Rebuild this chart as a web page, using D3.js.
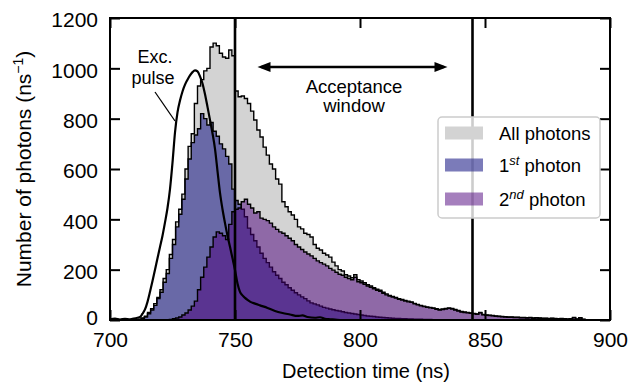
<!DOCTYPE html>
<html>
<head>
<meta charset="utf-8">
<script src="https://cdn.jsdelivr.net/npm/d3@7"></script>
<style>
  html, body { margin: 0; padding: 0; background: #fff; }
  svg text { font-family: "Liberation Sans", Arial, Helvetica, sans-serif; fill: #000; }
</style>
</head>
<body>
<svg id="chart" width="628" height="383"></svg>
<script>
// Histogram bins: start time (ns) and width (ns)
const binStart = 700;
const binWidth = 1.25;

// Counts per ns for every detected photon
const allPhotons = [
  0,0,0,0,0,0,0,0,0,
  3,8,15,30,45,65,90,120,165,200,260,
  320,390,440,500,600,690,740,860,930,955,
  990,1000,1085,1100,1090,1060,1045,1040,1073,1050,
  910,887,890,880,860,830,795,755,727,687,
  655,620,600,560,540,470,450,430,417,400,
  370,362,345,340,330,300,285,278,265,258,
  250,230,215,200,195,180,175,168,180,160,
  155,148,140,135,128,122,118,110,104,98,
  94,90,85,82,78,75,72,66,62,58,
  55,52,50,48,45,42,44,46,48,46,
  42,38,34,32,30,28,26,24,30,22,
  20,19,18,16,15,14,13,12,12,11,
  11,10,10,9,10,8,9,8,7,7,
  6,7,6,5,6,5,4,5,10,4,9,3
];

// Counts per ns for the first photon of each pulse
const firstPhoton = [
  0,0,0,0,0,0,0,0,0,
  2,6,12,25,40,58,85,110,150,185,245,
  300,370,420,480,560,640,705,735,760,820,
  800,775,785,750,730,700,680,650,620,520,
  475,460,440,410,365,340,315,290,265,245,
  228,210,192,178,165,150,140,128,118,108,
  100,92,85,76,68,64,60,55,50,47,
  44,41,38,36,33,30,28,26,24,22,
  20,18,16,15,14,12,11,10,9,8,
  7,6,6,5,5,4,4,3,3,3,
  2,2,2,1,1,1,1,1
];

// Counts per ns for the second photon of each pulse
const secondPhoton = [
  0,0,0,0,0,0,0,0,0,0,0,0,0,0,0,0,0,0,0,
  2,5,8,12,20,28,40,55,75,120,170,
  210,250,290,330,350,345,335,320,380,430,
  440,445,470,480,460,445,425,430,405,400,
  395,385,370,360,350,345,335,325,315,300,
  290,280,270,262,255,245,235,228,222,215,
  205,198,190,182,178,170,165,160,170,152,
  148,142,135,130,124,118,114,106,100,95,
  91,87,82,79,75,72,70,64,60,56,
  53,50,48,46,43,40,42,44,46,44,
  40,36,32,30,29,27,25,23,29,21,
  19,18,17,15,14,13,12,11,11,10,
  10,9,9,8,9,7,8,7,6,6,
  5,6,5,4,5,4,3,4,9,3,8,2
];

// Excitation pulse profile (time in ns, intensity)
const pulseTime = [700,702,704,706,708,710,712,713,714,715,716,717,718,719,720,721,722,723,724,725,726,727,728,729,730,731,732,733,734,735,736,737,738,739,740,741,742,743,744,745,746,747,748,749,750,751,752,753,754,755,756,758,760,763,766,769,772,775,777,779,782,784,786,788,790,792];
const pulseValue = [3,6,2,5,3,7,12,25,42,72,112,155,200,245,290,335,388,445,520,625,745,825,872,908,935,955,972,985,992,988,968,940,897,847,795,742,680,592,505,440,385,335,291,245,199,145,112,98,88,80,73,65,58,48,36,28,22,16,18,12,9,11,5,3,2,0];

// Acceptance window boundaries (ns) and arrow span
const windowEdges = [750, 845];
const arrowSpan = [759, 835];
const arrowLevel = 1005;

const xTicks = [700, 750, 800, 850, 900];
const yTicks = [0, 200, 400, 600, 800, 1000, 1200];

const series = [
  { name: "All photons", values: allPhotons, color: "#d3d3d3", opacity: 1 },
  { name: "1st photon", values: firstPhoton, color: "#23238b", opacity: 0.6, sup: "st", base: "1" },
  { name: "2nd photon", values: secondPhoton, color: "#4c007c", opacity: 0.5, sup: "nd", base: "2" }
];

const svg = d3.select("#chart");
const plotLeft = 110, plotRight = 610, plotTop = 18, plotBottom = 320;

const x = d3.scaleLinear().domain([700, 900]).range([plotLeft, plotRight]);
const y = d3.scaleLinear().domain([0, 1200]).range([plotBottom, plotTop]);

const plot = svg.append("g");

// Step histograms
function stepPoints(values) {
  const pts = values.map((v, i) => [binStart + i * binWidth, v]);
  pts.push([binStart + values.length * binWidth, values[values.length - 1]]);
  return pts;
}
const area = d3.area()
  .x(d => x(d[0])).y0(y(0)).y1(d => y(d[1]))
  .curve(d3.curveStepAfter);
const outline = d3.line()
  .x(d => x(d[0])).y(d => y(d[1]))
  .curve(d3.curveStepAfter);

series.forEach(s => {
  const pts = stepPoints(s.values);
  plot.append("path")
    .attr("d", area(pts))
    .attr("fill", s.color)
    .attr("fill-opacity", s.opacity);
  const edge = [[binStart, 0]].concat(pts).concat([[pts[pts.length - 1][0], 0]]);
  plot.append("path")
    .attr("d", outline(edge))
    .attr("fill", "none")
    .attr("stroke", "#000")
    .attr("stroke-width", 1.4);
});

// Excitation pulse
const pulseLine = d3.line()
  .x((d, i) => x(pulseTime[i]))
  .y(d => y(d))
  .curve(d3.curveMonotoneX);
plot.append("path")
  .attr("d", pulseLine(pulseValue))
  .attr("fill", "none")
  .attr("stroke", "#000")
  .attr("stroke-width", 2.2);

// Acceptance window edges
windowEdges.forEach(t => {
  plot.append("line")
    .attr("x1", x(t)).attr("x2", x(t))
    .attr("y1", y(1200)).attr("y2", y(0))
    .attr("stroke", "#000")
    .attr("stroke-width", 2.6);
});

// Double-headed arrow
const ay = y(arrowLevel);
const ax0 = x(arrowSpan[0]), ax1 = x(arrowSpan[1]);
const headLen = 13, headHalf = 5;
plot.append("line")
  .attr("x1", ax0 + 4).attr("x2", ax1 - 4)
  .attr("y1", ay).attr("y2", ay)
  .attr("stroke", "#000").attr("stroke-width", 2.5);
plot.append("path")
  .attr("d", `M${ax0},${ay} L${ax0 + headLen},${ay - headHalf} L${ax0 + headLen},${ay + headHalf} Z`)
  .attr("fill", "#000");
plot.append("path")
  .attr("d", `M${ax1},${ay} L${ax1 - headLen},${ay - headHalf} L${ax1 - headLen},${ay + headHalf} Z`)
  .attr("fill", "#000");

// Annotations
const annot = svg.append("g").attr("font-size", 18.5).attr("text-anchor", "middle");
annot.append("text").attr("x", 354).attr("y", 93).text("Acceptance");
annot.append("text").attr("x", 354).attr("y", 112).text("window");
const pulseNote = svg.append("g").attr("font-size", 18).attr("text-anchor", "middle");
pulseNote.append("text").attr("x", 155).attr("y", 63).text("Exc.");
pulseNote.append("text").attr("x", 153).attr("y", 83.5).text("pulse");
svg.append("line")
  .attr("x1", 155).attr("y1", 92).attr("x2", 175).attr("y2", 121)
  .attr("stroke", "#000").attr("stroke-width", 1.3);

// Axes with inward ticks on all four sides
const fontTicks = 21;
const gLeft = svg.append("g").attr("transform", `translate(${plotLeft},0)`)
  .call(d3.axisLeft(y).tickValues(yTicks).tickFormat(d3.format("d"))
    .tickSizeInner(-10).tickSizeOuter(0).tickPadding(12));
const gBottom = svg.append("g").attr("transform", `translate(0,${plotBottom})`)
  .call(d3.axisBottom(x).tickValues(xTicks).tickFormat(d3.format("d"))
    .tickSizeInner(-10).tickSizeOuter(0).tickPadding(12));
const gRight = svg.append("g").attr("transform", `translate(${plotRight},0)`)
  .call(d3.axisRight(y).tickValues(yTicks).tickSizeInner(-10).tickSizeOuter(0).tickFormat(""));
const gTop = svg.append("g").attr("transform", `translate(0,${plotTop})`)
  .call(d3.axisTop(x).tickValues(xTicks).tickSizeInner(-10).tickSizeOuter(0).tickFormat(""));
[gLeft, gBottom, gRight, gTop].forEach(g => {
  g.select(".domain").remove();
  g.selectAll(".tick line").attr("stroke", "#000").attr("stroke-width", 2);
  g.selectAll("text")
    .attr("font-size", fontTicks)
    .attr("font-family", '"Liberation Sans", Arial, Helvetica, sans-serif')
    .attr("fill", "#000");
});
gLeft.selectAll(".tick text").attr("dy", "0.42em");
gLeft.selectAll(".tick").filter(d => d === 0).select("text").attr("dy", "0.2em");

svg.append("rect")
  .attr("x", plotLeft).attr("y", plotTop)
  .attr("width", plotRight - plotLeft).attr("height", plotBottom - plotTop)
  .attr("fill", "none").attr("stroke", "#000").attr("stroke-width", 2);

// Axis titles
svg.append("text")
  .attr("x", 366).attr("y", 378)
  .attr("text-anchor", "middle").attr("font-size", 20)
  .text("Detection time (ns)");
const yTitle = svg.append("text")
  .attr("transform", `translate(31,${(plotTop + plotBottom) / 2}) rotate(-90)`)
  .attr("text-anchor", "middle").attr("font-size", 21);
yTitle.append("tspan").text("Number of photons (ns");
yTitle.append("tspan").attr("font-size", 14).attr("dy", -8).text("\u22121");
yTitle.append("tspan").attr("dy", 8).text(")");

// Legend
const legend = svg.append("g");
legend.append("rect")
  .attr("x", 438).attr("y", 117).attr("width", 162).attr("height", 101).attr("rx", 4)
  .attr("fill", "#fff").attr("fill-opacity", 0.8)
  .attr("stroke", "#cccccc").attr("stroke-width", 1.5);
const rowY = [133, 165, 199];
series.forEach((s, i) => {
  legend.append("rect")
    .attr("x", 445).attr("y", rowY[i] - 6.5).attr("width", 38).attr("height", 13)
    .attr("fill", s.color).attr("fill-opacity", s.opacity);
  const t = legend.append("text").attr("x", 499).attr("y", rowY[i] + 6.5).attr("font-size", 18.5);
  if (s.sup) {
    t.append("tspan").text(s.base);
    t.append("tspan").attr("font-size", 13).attr("font-style", "italic").attr("dy", -7).text(s.sup);
    t.append("tspan").attr("dy", 7).text(" photon");
  } else {
    t.text(s.name);
  }
});
</script>
</body>
</html>
